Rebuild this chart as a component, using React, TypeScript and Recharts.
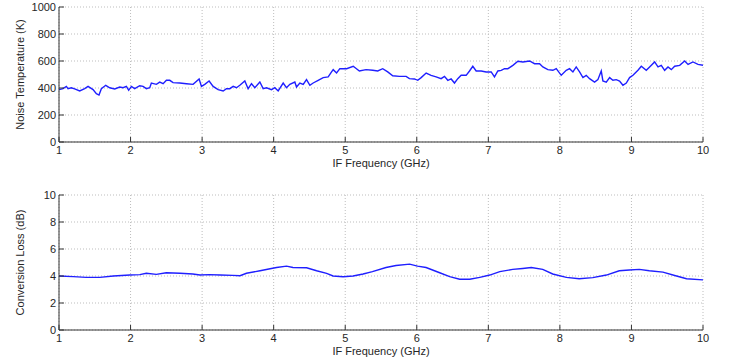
import React from "react";
import { LineChart, Line, XAxis, YAxis, CartesianGrid } from "recharts";

// Noise temperature (K) vs IF frequency (GHz)
const tempFreq = [
  1.0, 1.056, 1.103, 1.126, 1.172, 1.219, 1.289, 1.359, 1.406, 1.476, 1.522, 1.559, 1.592, 1.653, 1.709, 1.779,
  1.849, 1.895, 1.942, 1.974, 2.012, 2.058, 2.128, 2.175, 2.221, 2.268, 2.291, 2.361, 2.408, 2.455, 2.501, 2.548,
  2.594, 2.688, 2.781, 2.874, 2.958, 2.991, 3.037, 3.098, 3.154, 3.224, 3.294, 3.34, 3.387, 3.434, 3.48, 3.527,
  3.597, 3.643, 3.69, 3.737, 3.807, 3.853, 3.9, 3.97, 4.016, 4.063, 4.133, 4.179, 4.226, 4.296, 4.319, 4.366,
  4.413, 4.459, 4.506, 4.552, 4.622, 4.692, 4.762, 4.809, 4.832, 4.879, 4.925, 5.019, 5.112, 5.198, 5.291, 5.385,
  5.454, 5.524, 5.594, 5.664, 5.758, 5.851, 5.897, 5.967, 6.014, 6.061, 6.131, 6.2, 6.27, 6.34, 6.387, 6.434,
  6.48, 6.527, 6.573, 6.62, 6.69, 6.737, 6.783, 6.83, 6.9, 6.97, 7.04, 7.086, 7.133, 7.18, 7.226, 7.273,
  7.343, 7.413, 7.483, 7.576, 7.646, 7.716, 7.762, 7.832, 7.902, 7.949, 8.019, 8.089, 8.135, 8.182, 8.228, 8.275,
  8.322, 8.368, 8.415, 8.485, 8.531, 8.578, 8.601, 8.648, 8.695, 8.741, 8.788, 8.834, 8.881, 8.928, 8.974, 9.021,
  9.091, 9.138, 9.207, 9.254, 9.324, 9.371, 9.417, 9.464, 9.511, 9.557, 9.604, 9.674, 9.744, 9.791, 9.86, 9.93, 10.0,
];
const tempValues = [
  388, 395, 412, 395, 402, 393, 378, 395, 412, 388, 358, 348, 395, 420, 402, 393,
  407, 402, 412, 383, 412, 395, 417, 412, 395, 402, 437, 427, 444, 432, 457, 457,
  440, 437, 432, 427, 467, 412, 427, 452, 412, 388, 378, 395, 395, 412, 402, 420,
  452, 395, 432, 402, 444, 395, 402, 388, 402, 378, 437, 402, 427, 444, 407, 437,
  427, 462, 420, 437, 457, 477, 482, 519, 536, 511, 543, 543, 561, 526, 536, 531,
  526, 543, 519, 491, 486, 486, 469, 467, 457, 477, 511, 494, 482, 469, 486, 457,
  467, 437, 469, 494, 494, 526, 561, 526, 526, 519, 519, 482, 526, 531, 543, 543,
  568, 598, 593, 600, 580, 580, 556, 536, 531, 543, 494, 531, 543, 519, 556, 519,
  477, 494, 469, 444, 462, 526, 452, 444, 477, 457, 462, 452, 420, 437, 477, 494,
  531, 561, 531, 556, 593, 556, 568, 531, 556, 536, 561, 568, 600, 575, 593, 575, 568,
];

// Conversion loss (dB) vs IF frequency (GHz)
const lossFreq = [
  1.0, 1.2, 1.38, 1.57, 1.76, 1.99, 2.13, 2.22, 2.36, 2.5, 2.69, 2.87, 2.97, 3.1, 3.25, 3.43,
  3.53, 3.62, 3.81, 3.95, 4.04, 4.18, 4.27, 4.46, 4.6, 4.74, 4.83, 4.97, 5.11, 5.25, 5.38, 5.57,
  5.71, 5.9, 6.01, 6.13, 6.32, 6.46, 6.6, 6.74, 6.88, 7.02, 7.16, 7.34, 7.48, 7.6, 7.76, 7.9,
  8.09, 8.27, 8.46, 8.65, 8.83, 8.97, 9.11, 9.25, 9.44, 9.63, 9.77, 10.0,
];
const lossValues = [
  4.0, 3.95, 3.9, 3.9, 4.0, 4.07, 4.1, 4.2, 4.12, 4.24, 4.2, 4.15, 4.07, 4.1, 4.07, 4.05,
  4.02, 4.2, 4.39, 4.54, 4.63, 4.73, 4.63, 4.61, 4.39, 4.2, 4.0, 3.95, 4.0, 4.15, 4.32, 4.63,
  4.78, 4.88, 4.73, 4.63, 4.24, 3.95, 3.76, 3.76, 3.9, 4.07, 4.32, 4.49, 4.56, 4.63, 4.49, 4.15,
  3.9, 3.8, 3.88, 4.07, 4.39, 4.44, 4.49, 4.39, 4.29, 4.0, 3.8, 3.71,
];

const freqTicks = [1, 2, 3, 4, 5, 6, 7, 8, 9, 10];
const tempTicks = [0, 200, 400, 600, 800, 1000];
const lossTicks = [0, 2, 4, 6, 8, 10];

const tempData = tempFreq.map((f, i) => ({ f, v: tempValues[i] }));
const lossData = lossFreq.map((f, i) => ({ f, v: lossValues[i] }));

const FONT = "'Liberation Sans', Arial, sans-serif";
const TXT = "#262626";
const TICK_LEN = 5;

const LeftTick = (p: any) => (
  <g>
    <line x1={p.x + 3} x2={p.x + 3 + TICK_LEN} y1={p.y} y2={p.y} stroke="#333" />
    <text x={p.x} y={p.y} dy="0.36em" textAnchor="end" fontSize={11} fill={TXT} fontFamily={FONT}>
      {p.payload.value}
    </text>
  </g>
);
const RightTick = (p: any) => (
  <line x1={p.x - TICK_LEN} x2={p.x} y1={p.y} y2={p.y} stroke="#333" />
);
const BottomTick = (p: any) => (
  <g>
    <line x1={p.x} x2={p.x} y1={p.y - 4} y2={p.y - 4 - TICK_LEN} stroke="#333" />
    <text x={p.x} y={p.y} dy="0.71em" textAnchor="middle" fontSize={11} fill={TXT} fontFamily={FONT}>
      {p.payload.value}
    </text>
  </g>
);
const TopTick = (p: any) => (
  <line x1={p.x} x2={p.x} y1={p.y} y2={p.y + TICK_LEN} stroke="#333" />
);

const xLabel = (props: any) => {
  const vb = props.viewBox;
  return (
    <text x={vb.x + vb.width / 2} y={vb.y + 25} textAnchor="middle" fontSize={11} fill={TXT} fontFamily={FONT}>
      IF Frequency (GHz)
    </text>
  );
};
const makeYLabel = (label: string) => (props: any) => {
  const vb = props.viewBox;
  const cx = 20;
  const cy = vb.y + vb.height / 2;
  return (
    <text
      x={cx}
      y={cy}
      textAnchor="middle"
      dominantBaseline="central"
      transform={`rotate(-90 ${cx} ${cy})`}
      fontSize={11}
      fill={TXT}
      fontFamily={FONT}
    >
      {label}
    </text>
  );
};

function Panel({ data, ticks, domain, yLabel }: any) {
  return (
    <LineChart width={733} height={175} data={data} margin={{ top: 7, right: 30, left: 0, bottom: 0 }}>
      <CartesianGrid stroke="#bdbdbd" strokeDasharray="1 2" />
      <XAxis
        dataKey="f"
        type="number"
        domain={[1, 10]}
        ticks={freqTicks}
        allowDataOverflow
        height={33}
        tickSize={0}
        tickMargin={4}
        stroke="#333"
        tick={BottomTick}
        label={xLabel}
        interval={0}
      />
      <XAxis
        xAxisId="top"
        orientation="top"
        dataKey="f"
        type="number"
        domain={[1, 10]}
        ticks={freqTicks}
        allowDataOverflow
        height={0}
        tickSize={0}
        tickMargin={0}
        stroke="#333"
        tick={TopTick}
        interval={0}
      />
      <YAxis
        type="number"
        domain={domain}
        ticks={ticks}
        allowDataOverflow
        width={59}
        tickSize={0}
        tickMargin={3}
        stroke="#333"
        tick={LeftTick}
        label={makeYLabel(yLabel)}
        interval={0}
      />
      <YAxis
        yAxisId="right"
        orientation="right"
        type="number"
        domain={domain}
        ticks={ticks}
        allowDataOverflow
        width={0}
        tickSize={0}
        tickMargin={0}
        stroke="#333"
        tick={RightTick}
        interval={0}
      />
      <Line
        xAxisId="top"
        yAxisId="right"
        dataKey="v"
        stroke="none"
        dot={false}
        isAnimationActive={false}
      />
      <Line
        dataKey="v"
        stroke="#1f1fff"
        strokeWidth={1.4}
        dot={false}
        isAnimationActive={false}
        type="linear"
      />
    </LineChart>
  );
}

export default function App() {
  return (
    <div style={{ position: "absolute", left: 0, top: 0, width: 733, height: 364, background: "#fff" }}>
      <div style={{ position: "absolute", left: 0, top: 0 }}>
        <Panel data={tempData} ticks={tempTicks} domain={[0, 1000]} yLabel="Noise Temperature (K)" />
      </div>
      <div style={{ position: "absolute", left: 0, top: 188 }}>
        <Panel data={lossData} ticks={lossTicks} domain={[0, 10]} yLabel="Conversion Loss (dB)" />
      </div>
    </div>
  );
}
